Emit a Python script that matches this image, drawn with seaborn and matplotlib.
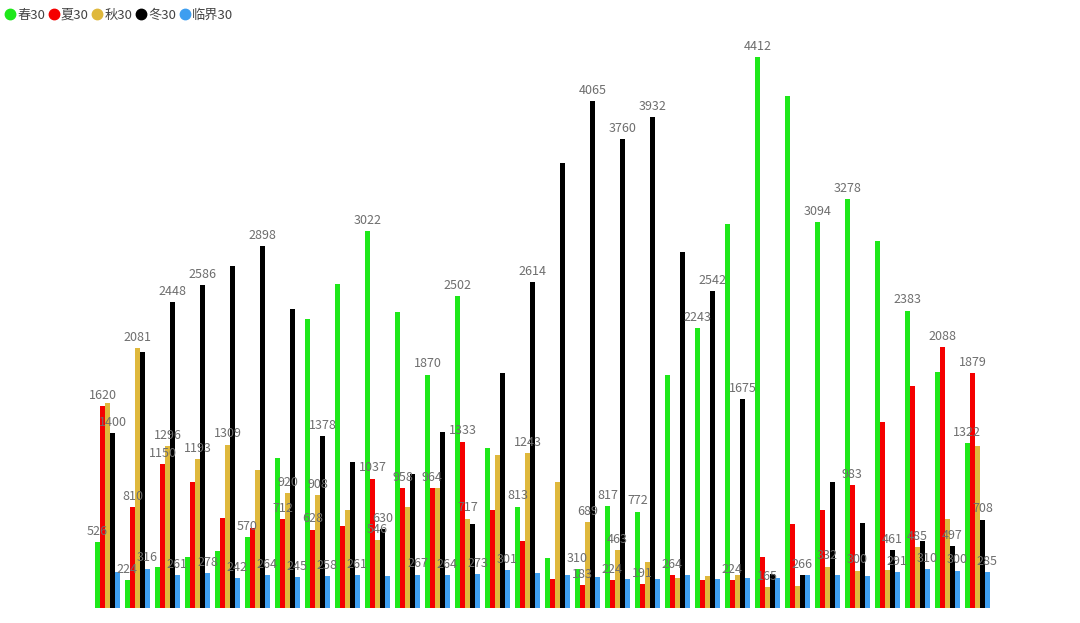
import pandas as pd
import matplotlib.pyplot as plt
import seaborn as sns
from matplotlib.lines import Line2D

sns.set_style('white')
plt.rcParams['font.family'] = ['Noto Sans CJK SC', 'DejaVu Sans']

days = [str(i) for i in range(1, 31)]
series = ['春30', '夏30', '秋30', '冬30', '临界30']
colors = ['#1ee81a', '#f50000', '#dfb83c', '#000000', '#3d9ef0']

spring = [526, 224, 331, 411, 459, 570, 1204, 2313, 2599, 3022, 2369, 1870, 2502, 1279, 813,
          403, 310, 817, 772, 1863, 2243, 3077, 4412, 4106, 3094, 3278, 2941, 2383, 1893, 1322]
summer = [1620, 810, 1150, 1012, 724, 643, 712, 628, 657, 1037, 958, 964, 1333, 785, 539,
          230, 183, 224, 191, 264, 223, 224, 406, 671, 785, 983, 1490, 1779, 2088, 1879]
autumn = [1645, 2081, 1296, 1193, 1309, 1106, 920, 908, 785, 546, 807, 959, 717, 1226, 1243,
          1007, 689, 463, 365, 240, 258, 264, 165, 176, 332, 300, 304, 485, 716, 1300]
winter = [1400, 2051, 2448, 2586, 2743, 2898, 2396, 1378, 1167, 630, 1074, 1410, 670, 1880, 2614,
          3568, 4065, 3760, 3932, 2856, 2542, 1675, 270, 266, 1012, 684, 461, 539, 497, 708]
critical = [291, 316, 261, 278, 242, 264, 245, 258, 261, 256, 267, 264, 273, 301, 278,
            262, 251, 232, 232, 262, 232, 240, 240, 264, 264, 256, 291, 310, 300, 285]

# which bars show a value label (day index, 0-based)
spring_lbl = [0, 1, 5, 9, 11, 12, 14, 16, 17, 18, 20, 22, 24, 25, 27, 29]
summer_lbl = [0, 1, 2, 6, 7, 9, 10, 11, 12, 16, 17, 18, 19, 21, 25, 28, 29]
autumn_lbl = [1, 2, 3, 4, 6, 7, 9, 12, 14, 16, 17, 22, 24, 25, 27]
winter_lbl = [0, 2, 3, 5, 7, 9, 14, 16, 17, 18, 20, 21, 23, 26, 28, 29]
critical_lbl = [1, 2, 3, 4, 5, 6, 7, 8, 10, 11, 12, 13, 26, 27, 28, 29]

values = [spring, summer, autumn, winter, critical]
shown = [spring_lbl, summer_lbl, autumn_lbl, winter_lbl, critical_lbl]

rows = []
for name, vals in zip(series, values):
    for d, v in zip(days, vals):
        rows.append({'day': d, 'series': name, 'value': v})
df = pd.DataFrame(rows)

fig = plt.figure(figsize=(10.8, 6.23), dpi=100)
ax = fig.add_axes([0.0856, 0.0241, 0.8333, 0.9014])

sns.barplot(data=df, x='day', y='value', hue='series', order=days, hue_order=series,
            palette=colors, width=0.833, errorbar=None, linewidth=0, saturation=1,
            legend=False, ax=ax)

ax.set_xlim(-0.5, 29.5)
ax.set_ylim(0, 4500)
ax.axis('off')

for cont, vals, idx in zip(ax.containers, values, shown):
    labels = [str(v) if i in idx else '' for i, v in enumerate(vals)]
    ax.bar_label(cont, labels=labels, padding=3, fontsize=9, color='#6e6e6e', clip_on=False)

handles = [Line2D([], [], marker='o', linestyle='', markersize=7.5, color=c) for c in colors]
fig.legend(handles, series, loc='upper left', bbox_to_anchor=(-0.008, 1.005), ncol=5,
           frameon=False, handletextpad=0.05, columnspacing=0.15, handlelength=1.0,
           fontsize=9.5, labelcolor='#444444')

plt.savefig('out.png', dpi=100)
plt.close()
